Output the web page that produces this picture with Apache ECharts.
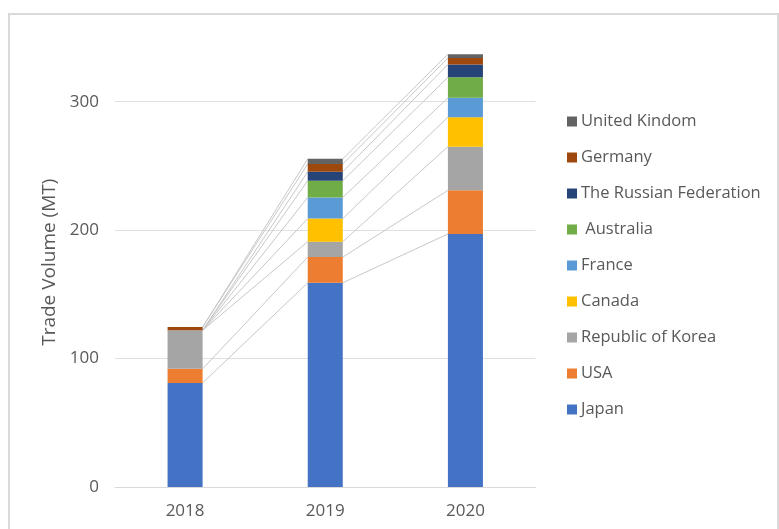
<!DOCTYPE html>
<html>
<head>
<meta charset="utf-8">
<script src="https://cdn.jsdelivr.net/npm/echarts@6/dist/echarts.min.js"></script>
<style>
html,body{margin:0;padding:0;background:#fff;}
#c{width:779px;height:529px;}
</style>
</head>
<body>
<div id="c"></div>
<script>
var years = ['2018', '2019', '2020'];
var seriesNames = ['Japan', 'USA', 'Republic of Korea', 'Canada', 'France', ' Australia', 'The Russian Federation', 'Germany', 'United Kindom'];
var japan = [81, 159, 197];
var usa = [11, 20, 34];
var korea = [30, 12, 34];
var canada = [0, 18, 23];
var france = [0, 16.5, 15];
var australia = [0, 13, 16];
var russia = [0, 7, 10];
var germany = [2.5, 6, 5];
var uk = [0, 4, 3];
var colors = ['#4472C4', '#ED7D31', '#A5A5A5', '#FFC000', '#5B9BD5', '#70AD47', '#264478', '#9E480E', '#636363'];
var yTicks = [0, 100, 200, 300];

var allData = [japan, usa, korea, canada, france, australia, russia, germany, uk];
// cumulative tops per year per series
var cum = years.map(function (y, i) {
  var s = 0;
  return allData.map(function (d) { s += d[i]; return s; });
});

var FONT = 'Open Sans';
var series = allData.map(function (d, k) {
  return {
    name: seriesNames[k],
    type: 'bar',
    stack: 'total',
    barWidth: '25%',
    data: d,
    itemStyle: { color: colors[k] },
    emphasis: { disabled: true },
    z: 3
  };
});
series.push({
  type: 'custom',
  name: 'connectors',
  silent: true,
  z: 1,
  data: [[0, 0], [1, 0]],
  encode: { x: 0, y: 1 },
  renderItem: function (params, api) {
    var i = api.value(0);
    var half = api.size([1, 0])[0] * 0.125;
    var children = cum[i].map(function (v, k) {
      var p1 = api.coord([i, v]);
      var p2 = api.coord([i + 1, cum[i + 1][k]]);
      return {
        type: 'line',
        shape: { x1: p1[0] + half, y1: p1[1], x2: p2[0] - half, y2: p2[1] },
        style: { stroke: '#c8c8c8', lineWidth: 1 }
      };
    });
    return { type: 'group', children: children };
  }
});

var chart = echarts.init(document.getElementById('c'), null, { renderer: 'canvas' });
chart.setOption({
  animation: false,
  backgroundColor: '#fff',
  textStyle: { fontFamily: FONT },
  graphic: [{
    type: 'rect',
    silent: true,
    shape: { x: 9, y: 14, width: 769, height: 600 },
    style: { fill: 'none', stroke: '#d9d9d9', lineWidth: 2 }
  }],
  grid: { left: 115, right: 243.5, top: 37.5, bottom: 42 },
  legend: {
    orient: 'vertical',
    left: 562,
    top: 107,
    itemWidth: 10,
    itemHeight: 10,
    itemGap: 17,
    icon: 'rect',
    data: seriesNames.slice().reverse(),
    textStyle: { fontFamily: FONT, fontSize: 16.5, color: '#595959', lineHeight: 19, padding: [0, 0, 0, -1] }
  },
  xAxis: {
    type: 'category',
    data: years,
    axisLine: { lineStyle: { color: '#d9d9d9', width: 1 } },
    axisTick: { show: false },
    axisLabel: { fontFamily: FONT, fontSize: 17, color: '#595959', margin: 16 }
  },
  yAxis: {
    type: 'value',
    min: 0,
    max: 350,
    interval: 100,
    name: 'Trade Volume (MT)',
    nameLocation: 'middle',
    nameGap: 51,
    nameTextStyle: { fontFamily: FONT, fontSize: 19, color: '#595959' },
    axisLine: { show: false },
    axisTick: { show: false },
    axisLabel: {
      fontFamily: FONT, fontSize: 17, color: '#595959', margin: 16,
      showMaxLabel: false,
      formatter: function (v) { return yTicks.indexOf(v) >= 0 ? String(v) : ''; }
    },
    splitLine: { show: true, showMaxLine: false, lineStyle: { color: '#e0e0e0', width: 1 } }
  },
  series: series
});
</script>
</body>
</html>
